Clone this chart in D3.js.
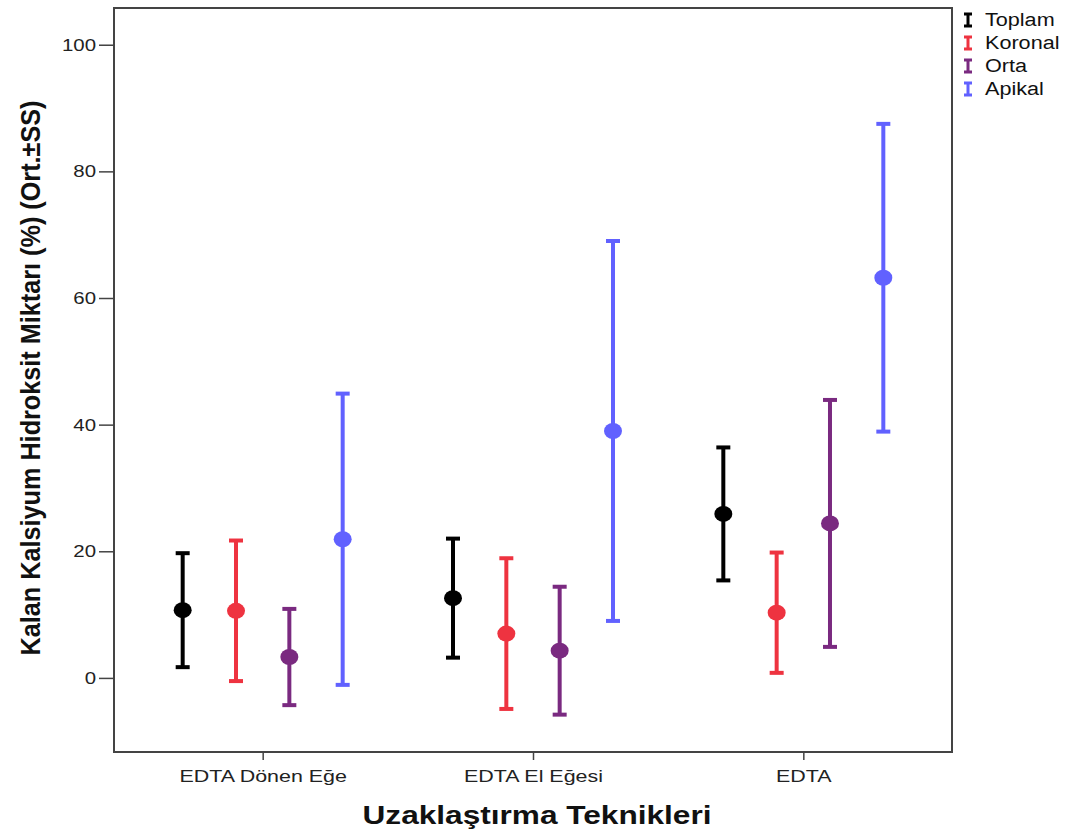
<!DOCTYPE html>
<meta charset="utf-8">
<head>
  <title>Error bars</title>
  <style>
    body { margin: 0; background: #fff; }
    text { font-family: "Liberation Sans", Arial, sans-serif; }
  </style>
</head>
<body>
<svg width="1072" height="834"></svg>
<script src="https://cdnjs.cloudflare.com/ajax/libs/d3/7.8.5/d3.min.js"></script>
<script>
var groups = ['EDTA Dönen Eğe', 'EDTA El Eğesi', 'EDTA'];
var seriesNames = ['Toplam', 'Koronal', 'Orta', 'Apikal'];
var colors = ['#000000', '#ee3340', '#7a2a80', '#6161ff'];

// mean and standard deviation per series, one value per group
var toplamMean = [10.7, 12.6, 25.9];
var toplamSd = [9.0, 9.4, 10.5];
var koronalMean = [10.6, 7.0, 10.3];
var koronalSd = [11.1, 11.9, 9.5];
var ortaMean = [3.3, 4.3, 24.4];
var ortaSd = [7.6, 10.1, 19.5];
var apikalMean = [21.9, 39.0, 63.2];
var apikalSd = [23.0, 30.0, 24.3];

var yTicks = [0, 20, 40, 60, 80, 100];

var means = [toplamMean, koronalMean, ortaMean, apikalMean];
var sds = [toplamSd, koronalSd, ortaSd, apikalSd];

var plotL = 114, plotR = 952, plotT = 8, plotB = 752;

var svg = d3.select('svg');

// the original picture is stretched sideways, so widen the text to match
function stretch(sel, k) {
  sel.each(function() {
    var w = this.getComputedTextLength();
    d3.select(this).attr('textLength', w * k).attr('lengthAdjust', 'spacingAndGlyphs');
  });
}

var y = d3.scaleLinear().domain([-11.7, 105.8]).range([plotB, plotT]);
var x = d3.scalePoint().domain(groups).range([plotL, plotR]).padding(0.55);
var inner = d3.scalePoint().domain(seriesNames).range([-80, 80]);

// frame
svg.append('rect')
  .attr('x', plotL).attr('y', plotT)
  .attr('width', plotR - plotL).attr('height', plotB - plotT)
  .attr('fill', 'none').attr('stroke', '#444').attr('stroke-width', 2);

// y axis
var yAxis = svg.append('g')
  .attr('transform', 'translate(' + plotL + ',0)')
  .call(d3.axisLeft(y).tickValues(yTicks).tickSize(15).tickPadding(3));
yAxis.select('.domain').remove();
yAxis.selectAll('line').attr('stroke', '#444').attr('stroke-width', 1.5);
yAxis.selectAll('text').attr('font-size', 17).attr('fill', '#222')
  .style('font-family', '"Liberation Sans", Arial, sans-serif')
  .call(stretch, 1.2);

// x axis
var xAxis = svg.append('g')
  .attr('transform', 'translate(0,' + plotB + ')')
  .call(d3.axisBottom(x).tickSize(8).tickPadding(10));
xAxis.select('.domain').remove();
xAxis.selectAll('line').attr('stroke', '#444').attr('stroke-width', 1.5);
xAxis.selectAll('text').attr('font-size', 17).attr('fill', '#222')
  .style('font-family', '"Liberation Sans", Arial, sans-serif')
  .call(stretch, 1.26);

// error bars
var rows = [];
seriesNames.forEach(function(s, i) {
  groups.forEach(function(g, j) {
    rows.push({series: s, group: g, color: colors[i], mean: means[i][j], sd: sds[i][j]});
  });
});

var bars = svg.append('g').selectAll('g')
  .data(rows).enter().append('g')
  .attr('transform', function(d) { return 'translate(' + (x(d.group) + inner(d.series)) + ',0)'; });

bars.append('line')
  .attr('y1', function(d) { return y(d.mean + d.sd); })
  .attr('y2', function(d) { return y(d.mean - d.sd); })
  .attr('stroke', function(d) { return d.color; })
  .attr('stroke-width', 4);

bars.selectAll('.cap')
  .data(function(d) { return [{c: d.color, v: d.mean + d.sd}, {c: d.color, v: d.mean - d.sd}]; })
  .enter().append('line')
  .attr('x1', -7).attr('x2', 7)
  .attr('y1', function(d) { return y(d.v); })
  .attr('y2', function(d) { return y(d.v); })
  .attr('stroke', function(d) { return d.c; })
  .attr('stroke-width', 4);

bars.append('ellipse')
  .attr('cy', function(d) { return y(d.mean); })
  .attr('rx', 9).attr('ry', 8)
  .attr('fill', function(d) { return d.color; });

// legend
var legend = svg.append('g').selectAll('g')
  .data(seriesNames).enter().append('g')
  .attr('transform', function(d, i) { return 'translate(968,' + (20 + i * 23) + ')'; });
legend.append('path')
  .attr('d', 'M-4,-6H4M0,-6V6M-4,6H4')
  .attr('stroke', function(d, i) { return colors[i]; })
  .attr('stroke-width', 3).attr('fill', 'none');
legend.append('text')
  .attr('x', 17).attr('dy', '0.35em')
  .attr('font-size', 18).attr('fill', '#111')
  .text(function(d) { return d; })
  .call(stretch, 1.2);

// axis titles
svg.append('text')
  .attr('transform', 'translate(40,' + 378 + ') rotate(-90)')
  .attr('text-anchor', 'middle')
  .attr('font-size', 27).attr('font-weight', 'bold')
  .attr('textLength', 555).attr('lengthAdjust', 'spacingAndGlyphs')
  .attr('fill', '#111')
  .text('Kalan Kalsiyum Hidroksit Miktarı (%) (Ort.±SS)');

svg.append('text')
  .attr('x', 537).attr('y', 824)
  .attr('text-anchor', 'middle')
  .attr('font-size', 25).attr('font-weight', 'bold')
  .attr('textLength', 349).attr('lengthAdjust', 'spacingAndGlyphs')
  .attr('fill', '#111')
  .text('Uzaklaştırma Teknikleri');
</script>
</body>
</html>
